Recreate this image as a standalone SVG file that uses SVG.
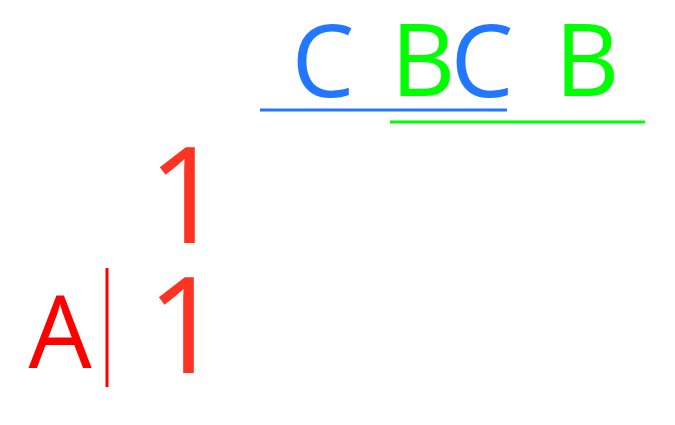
<svg xmlns="http://www.w3.org/2000/svg" width="675" height="425" viewBox="0 0 675 425">
<style>
text{font-family:"Open Sans","Noto Sans",sans-serif;text-anchor:middle}
.blue{fill:#2277ff}
.green{fill:#00ff00}
.one{fill:#ff3322;font-size:134px}
.a{fill:#ff0000;font-size:100px}
.hdr{font-size:100px}
</style>
<rect width="675" height="425" fill="#ffffff"/>
<g id="connectors">
<line x1="260" y1="110" x2="507" y2="110" stroke="#2277ff" stroke-width="3"/>
<line x1="390" y1="122" x2="645" y2="122" stroke="#00ff00" stroke-width="3"/>
<line x1="107" y1="268" x2="107" y2="387" stroke="#ff0000" stroke-width="3"/>
</g>
<g id="labelC1"><text class="hdr blue" x="323" y="97">C</text></g>
<g id="labelB1"><text class="hdr green" x="423" y="96">B</text></g>
<g id="labelC2"><text class="hdr blue" x="482" y="97">C</text></g>
<g id="labelB2"><text class="hdr green" x="587" y="96">B</text></g>
<g id="cell1"><text class="one" x="186" y="243">1</text></g>
<g id="cell2"><text class="one" x="185" y="373">1</text></g>
<g id="labelA"><text class="a" x="60" y="368">A</text></g>
</svg>
